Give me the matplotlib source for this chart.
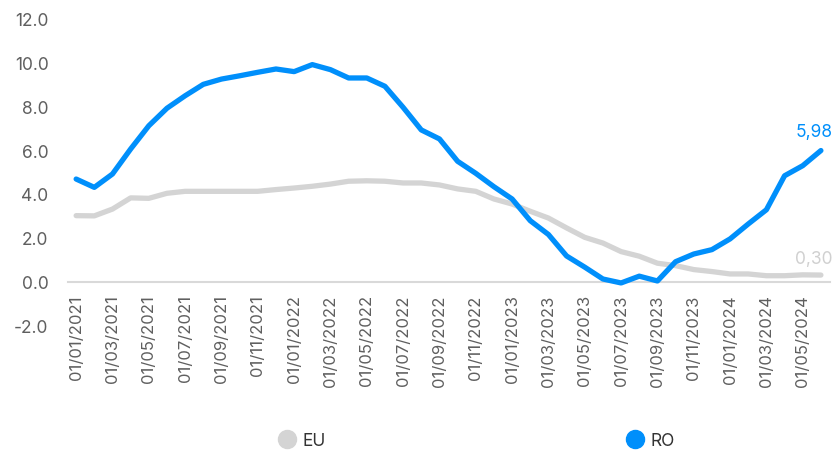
import matplotlib
matplotlib.use("Agg")
import matplotlib.pyplot as plt
from matplotlib.lines import Line2D
import pandas as pd

plt.rcParams['font.family'] = ['Inter', 'DejaVu Sans']

# monthly, 01/2021 .. 06/2024
dates = pd.date_range("2021-01-01", "2024-06-01", freq="MS")

ro = [4.68, 4.30, 4.91, 6.05, 7.11, 7.91, 8.48, 9.00, 9.24, 9.39, 9.55, 9.70,
      9.58, 9.90, 9.67, 9.29, 9.29, 8.91, 7.95, 6.92, 6.51, 5.49, 4.94, 4.33,
      3.77, 2.78, 2.15, 1.17, 0.66, 0.12, -0.06, 0.25, 0.03, 0.91, 1.26, 1.46,
      1.95, 2.63, 3.28, 4.83, 5.29, 5.98]
eu = [3.01, 3.00, 3.31, 3.82, 3.80, 4.03, 4.12, 4.12, 4.12, 4.12, 4.12, 4.20,
      4.27, 4.35, 4.45, 4.58, 4.60, 4.58, 4.50, 4.50, 4.41, 4.23, 4.12, 3.77,
      3.54, 3.21, 2.90, 2.45, 2.02, 1.76, 1.37, 1.16, 0.84, 0.73, 0.55, 0.46,
      0.35, 0.35, 0.27, 0.27, 0.31, 0.30]

yticks = [-2, 0, 2, 4, 6, 8, 10, 12]

ro_col = '#008FFB'
eu_col = '#D4D4D4'
txt_col = '#5f5f5f'

fig = plt.figure(figsize=(8.35, 4.52), dpi=100)
ax = fig.add_axes([0.0814, 0.2777, 0.9126, 0.679])

for s in ['top', 'right', 'left']:
    ax.spines[s].set_visible(False)
ax.spines['bottom'].set_position(('data', 0))
ax.spines['bottom'].set_color('#d9d9d9')
ax.spines['bottom'].set_linewidth(1.5)

x = list(range(len(dates)))
ax.plot(x, eu, color=eu_col, lw=3.8, solid_capstyle='round', solid_joinstyle='round', zorder=3)
ax.plot(x, ro, color=ro_col, lw=3.8, solid_capstyle='round', solid_joinstyle='round', zorder=4)

ax.set_xlim(-0.45, 41.5)
ax.set_ylim(-2, 12)
ax.set_yticks(yticks)
ax.set_yticklabels([f"{v:.1f}" for v in yticks])

ax.set_xticks(x[::2])
ax.set_xticklabels([d.strftime("%d/%m/%Y") for d in dates[::2]])

ax.tick_params(axis='y', length=0, pad=14, labelsize=12.5, labelcolor=txt_col)
ax.tick_params(axis='x', length=0, pad=9, labelsize=12, labelcolor=txt_col,
               labelrotation=90)

ax.annotate(f"{ro[-1]:.2f}".replace('.', ','), (x[-1], ro[-1]), xytext=(-7, 19),
            textcoords='offset pixels', ha='center', va='center',
            color=ro_col, fontsize=12.5, annotation_clip=False)
ax.annotate(f"{eu[-1]:.2f}".replace('.', ','), (x[-1], eu[-1]), xytext=(-7, 17),
            textcoords='offset pixels', ha='center', va='center',
            color='#d0d0d0', fontsize=12.5, annotation_clip=False)

handles = [Line2D([], [], ls='', marker='o', ms=13, color=eu_col, label='EU'),
           Line2D([], [], ls='', marker='o', ms=13, color=ro_col, label='RO')]
fig.legend(handles=handles, loc='center', bbox_to_anchor=(0.57, 0.023), ncol=2,
           frameon=False, fontsize=12.5, columnspacing=17.2, handletextpad=0.3,
           handlelength=1.2, labelcolor='#333333')

fig.savefig('out.png', dpi=100)
